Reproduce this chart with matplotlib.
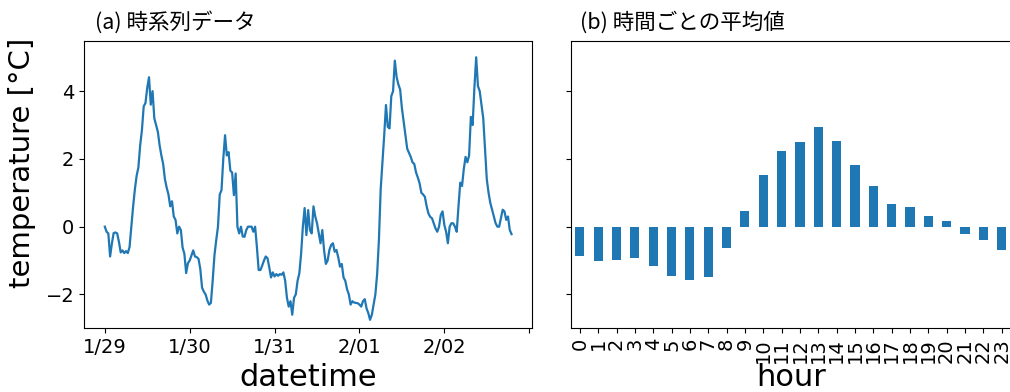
import matplotlib
matplotlib.use("Agg")
import matplotlib.pyplot as plt
import numpy as np
import pandas as pd

# ---- data -------------------------------------------------------------
start_time = "2021-01-29 00:00"
sample_freq = "30min"
temperature = [
    0.0, -0.15, -0.2, -0.88, -0.5, -0.19, -0.17, -0.2, -0.45, -0.76,
    -0.7, -0.78, -0.72, -0.78, -0.6, 0.0, 0.59, 1.1, 1.5, 1.75,
    2.4, 2.85, 3.55, 3.65, 4.1, 4.41, 3.6, 4.0, 3.2, 3.0,
    2.8, 2.4, 2.1, 1.85, 1.4, 1.15, 0.95, 0.6, 0.75, 0.3,
    0.2, -0.2, 0.0, -0.1, -0.62, -0.8, -1.37, -1.08, -1.0, -0.85,
    -0.7, -0.88, -0.9, -0.95, -1.25, -1.8, -1.92, -2.0, -2.18, -2.3,
    -2.25, -1.6, -0.85, -0.4, 0.0, 0.95, 1.08, 2.0, 2.7, 2.1,
    2.2, 1.65, 1.6, 0.93, 1.57, 0.0, -0.2, 0.0, -0.29, -0.3,
    -0.1, 0.0, 0.0, 0.0, -0.15, 0.0, -0.6, -1.28, -1.28, -1.15,
    -1.0, -0.88, -0.93, -1.2, -1.5, -1.35, -1.47, -1.4, -1.45, -1.4,
    -1.42, -1.35, -1.6, -2.1, -2.36, -2.2, -2.6, -2.1, -2.0, -1.6,
    -1.38, -0.8, 0.0, 0.55, -0.25, 0.49, -0.1, -0.2, 0.6, 0.3,
    0.1, -0.2, -0.49, -0.1, -0.7, -1.1, -1.0, -0.69, -0.54, -0.49,
    -0.74, -0.69, -0.9, -1.18, -1.1, -1.5, -1.6, -1.85, -2.0, -2.3,
    -2.2, -2.24, -2.25, -2.26, -2.3, -2.36, -2.2, -2.14, -2.41, -2.55,
    -2.75, -2.6, -2.3, -2.0, -1.4, -0.4, 1.1, 1.9, 2.7, 3.59,
    2.95, 2.9, 3.85, 4.0, 4.9, 4.42, 4.2, 4.05, 3.5, 3.1,
    2.7, 2.3, 2.18, 2.06, 1.9, 1.85, 1.6, 1.45, 1.28, 1.0,
    0.95, 0.88, 0.6, 0.39, 0.29, 0.25, 0.1, -0.05, -0.15, 0.0,
    0.35, 0.45, 0.05, -0.15, -0.49, 0.0, 0.1, 0.1, 0.0, -0.15,
    0.6, 1.3, 1.2, 1.7, 2.06, 1.9, 2.1, 3.24, 3.0, 4.1,
    5.0, 4.15, 4.0, 3.6, 3.2, 2.3, 1.4, 1.0, 0.7, 0.5,
    0.3, 0.1, 0.0, 0.0, 0.25, 0.5, 0.45, 0.2, 0.3, -0.1,
    -0.22,
]
day_ticks = ["2021-01-29", "2021-01-30", "2021-01-31", "2021-02-01",
             "2021-02-02", "2021-02-03"]
day_labels = ["1/29", "1/30", "1/31", "2/01", "2/02", ""]

hours = list(range(24))
hourly_mean = [-0.88, -1.01, -0.97, -0.93, -1.17, -1.46, -1.58, -1.49,
               -0.62, 0.46, 1.52, 2.23, 2.49, 2.93, 2.54, 1.83, 1.20,
               0.67, 0.57, 0.30, 0.17, -0.22, -0.39, -0.68]

title_a = "(a) 時系列データ"
title_b = "(b) 時間ごとの平均値"
ylabel = "temperature [°C]"
xlabel_a = "datetime"
xlabel_b = "hour"
yticks = [-2, 0, 2, 4]

# ---- figure ------------------------------------------------------------
W, H = 1010, 392
fig = plt.figure(figsize=(W / 100, H / 100), dpi=100)
blue = "#1f77b4"
cjk = ["Noto Sans CJK JP", "DejaVu Sans"]

ax1 = fig.add_axes([84 / W, (H - 328.3) / H, (531.7 - 84) / W, 287.3 / H])
ax2 = fig.add_axes([570.7 / W, (H - 328.3) / H, 440.1 / W, 287.3 / H],
                   sharey=ax1)

times = pd.date_range(start_time, periods=len(temperature), freq=sample_freq)
ax1.plot(times, temperature, color=blue, lw=1.6)
t0 = pd.Timestamp(start_time)
ax1.set_xlim(t0 - pd.Timedelta(hours=5.88), t0 + pd.Timedelta(hours=120.7))
ax1.set_ylim(-3.0, 5.48)
ax1.set_xticks([pd.Timestamp(d) for d in day_ticks])
ax1.set_xticklabels(day_labels)
ax1.set_yticks(yticks)
ax1.tick_params(labelsize=14)
ax1.set_ylabel(ylabel, fontsize=21)
ax1.yaxis.set_label_coords(-0.107, 0.575)
ax1.set_xlabel(xlabel_a, fontsize=22)
ax1.xaxis.set_label_coords(0.5, -0.121)
ax1.text(0.024, 1.066, title_a, transform=ax1.transAxes, fontsize=15.5,
         family=cjk, va="center", ha="left")

ax2.bar(hours, hourly_mean, width=0.5, color=blue)
ax2.set_xlim(-0.5, 23.5)
ax2.set_xticks(hours)
ax2.set_xticklabels([str(h) for h in hours], rotation=90)
ax2.tick_params(labelsize=14)
ax2.tick_params(axis="y", labelleft=False)
ax2.set_xlabel(xlabel_b, fontsize=22)
ax2.xaxis.set_label_coords(0.5, -0.121)
ax2.text(0.021, 1.066, title_b, transform=ax2.transAxes, fontsize=15.5,
         family=cjk, va="center", ha="left")

fig.savefig("out.png", dpi=100)
